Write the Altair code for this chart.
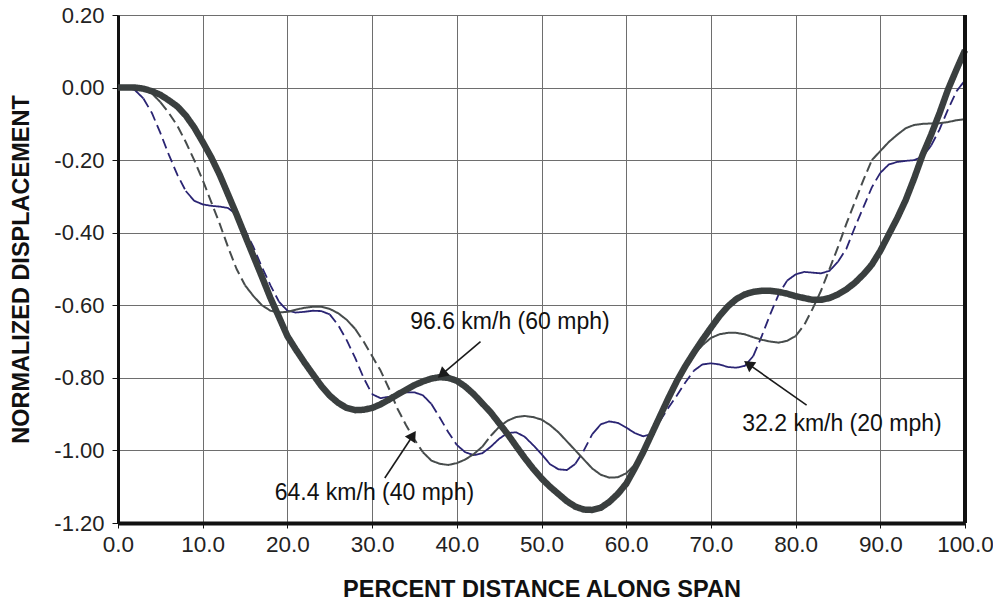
import math
import altair as alt
import pandas as pd

# Percent distance along the span, sampled every 1 %
SPAN_PCT = list(range(0, 101))

# Normalized midspan displacement for each vehicle speed
DISP_96 = [
    0.000, 0.000, 0.000, -0.003, -0.010, -0.020, -0.035, -0.052, -0.077, -0.110,
    -0.150, -0.192, -0.240, -0.295, -0.350, -0.408, -0.465, -0.522, -0.580, -0.632,
    -0.685, -0.722, -0.757, -0.790, -0.822, -0.849, -0.869, -0.883, -0.889, -0.888,
    -0.883, -0.873, -0.860, -0.846, -0.833, -0.820, -0.810, -0.802, -0.798, -0.800,
    -0.808, -0.824, -0.845, -0.870, -0.895, -0.925, -0.955, -0.988, -1.020, -1.050,
    -1.077, -1.100, -1.120, -1.140, -1.155, -1.163, -1.164, -1.158, -1.142, -1.120,
    -1.092, -1.050, -1.005, -0.955, -0.905, -0.855, -0.808, -0.767, -0.730, -0.695,
    -0.662, -0.630, -0.603, -0.583, -0.570, -0.563, -0.560, -0.560, -0.563, -0.568,
    -0.575, -0.580, -0.585, -0.585, -0.580, -0.570, -0.556, -0.538, -0.515, -0.488,
    -0.450, -0.405, -0.360, -0.310, -0.250, -0.185, -0.130, -0.070, -0.005, 0.050,
    0.103,
]
DISP_64 = [
    0.000, 0.000, 0.000, -0.005, -0.016, -0.040, -0.070, -0.105, -0.150, -0.200,
    -0.255, -0.315, -0.375, -0.440, -0.500, -0.545, -0.575, -0.600, -0.615, -0.620,
    -0.618, -0.612, -0.607, -0.604, -0.604, -0.610, -0.622, -0.640, -0.665, -0.700,
    -0.740, -0.780, -0.830, -0.885, -0.930, -0.970, -1.005, -1.028, -1.037, -1.040,
    -1.035, -1.025, -1.010, -0.990, -0.960, -0.935, -0.918, -0.908, -0.905, -0.908,
    -0.915, -0.930, -0.950, -0.975, -1.000, -1.025, -1.050, -1.067, -1.075, -1.074,
    -1.063, -1.040, -1.005, -0.958, -0.908, -0.858, -0.810, -0.770, -0.735, -0.710,
    -0.690, -0.680, -0.676, -0.676, -0.680, -0.688, -0.695, -0.700, -0.703, -0.698,
    -0.685, -0.655, -0.610, -0.560, -0.500, -0.440, -0.375, -0.315, -0.255, -0.200,
    -0.175, -0.150, -0.130, -0.112, -0.103, -0.100, -0.099, -0.098, -0.095, -0.090,
    -0.087,
]
DISP_32 = [
    0.000, 0.000, -0.007, -0.030, -0.070, -0.125, -0.185, -0.240, -0.285, -0.312,
    -0.322, -0.326, -0.328, -0.332, -0.350, -0.393, -0.440, -0.495, -0.545, -0.590,
    -0.615, -0.620, -0.618, -0.615, -0.616, -0.625, -0.655, -0.696, -0.745, -0.800,
    -0.845, -0.856, -0.852, -0.847, -0.840, -0.840, -0.848, -0.872, -0.910, -0.950,
    -0.985, -1.005, -1.013, -1.008, -0.990, -0.968, -0.952, -0.950, -0.962, -0.985,
    -1.010, -1.038, -1.052, -1.054, -1.037, -1.000, -0.955, -0.928, -0.920, -0.924,
    -0.937, -0.952, -0.961, -0.955, -0.918, -0.882, -0.848, -0.812, -0.780, -0.763,
    -0.760, -0.763, -0.770, -0.772, -0.767, -0.740, -0.685, -0.625, -0.570, -0.532,
    -0.515, -0.508, -0.510, -0.512, -0.505, -0.480, -0.444, -0.385, -0.330, -0.275,
    -0.235, -0.212, -0.205, -0.202, -0.200, -0.190, -0.160, -0.115, -0.060, -0.010,
    0.020,
]

# Callout labels: text, text anchor, arrow tail, arrow head (data units)
LABELS = ["96.6 km/h (60 mph)", "64.4 km/h (40 mph)", "32.2 km/h (20 mph)"]
LABEL_X = [34.5, 18.5, 73.7]
LABEL_Y = [-0.646, -1.117, -0.927]
TAIL_X = [42.8, 31.5, 81.3]
TAIL_Y = [-0.700, -1.076, -0.875]
HEAD_X = [38.4, 34.7, 74.6]
HEAD_Y = [-0.787, -0.963, -0.765]

W, H = 847, 508
X_DOM = [0, 100]
Y_DOM = [-1.2, 0.2]
STEEP = 0.03  # slope above which the trace is drawn dashed

NAVY = "#2a2473"
GRAY = "#474c4c"
DARK = "#3a3f3f"


def segments(name, ys, split):
    """Break a trace into runs, dashed where it is steep and solid where it is flat."""
    rows, seg, prev = [], 0, None
    for i in range(len(SPAN_PCT) - 1):
        slope = abs(ys[i + 1] - ys[i]) / (SPAN_PCT[i + 1] - SPAN_PCT[i])
        style = "dash" if (split and slope > STEEP) else "solid"
        if style != prev:
            seg += 1
            prev = style
            rows.append(dict(series=name, seg=f"{name}-{seg}", style=style,
                             x=SPAN_PCT[i], y=ys[i], o=i))
        rows.append(dict(series=name, seg=f"{name}-{seg}", style=style,
                         x=SPAN_PCT[i + 1], y=ys[i + 1], o=i + 1))
    return rows


rows = segments("32", DISP_32, True) + segments("64", DISP_64, True) + segments("96", DISP_96, False)
df = pd.DataFrame(rows)

xs = alt.Scale(domain=X_DOM, nice=False)
ys_ = alt.Scale(domain=Y_DOM, nice=False)

FONT = "Liberation Sans"

x_axis = alt.Axis(
    values=list(range(0, 101, 10)), format=".1f", title="PERCENT DISTANCE ALONG SPAN",
    grid=True, gridColor="#6e6e6e", gridWidth=1, domainColor="#111", domainWidth=4,
    tickColor="#111", tickSize=5, labelFont=FONT, labelFontSize=22.5, labelColor="#222",
    labelPadding=5, titleFont=FONT, titleFontSize=23.5, titleFontWeight="bold",
    titleColor="#111", titlePadding=22, labelFlush=False,
)
y_axis = alt.Axis(
    values=[round(-1.2 + 0.2 * k, 2) for k in range(8)],
    labelExpr="replace(format(datum.value, '.2f'), '\u2212', '-')",
    title="NORMALIZED DISPLACEMENT", grid=True, gridColor="#6e6e6e", gridWidth=1,
    domainColor="#111", domainWidth=3, tickColor="#111", tickSize=6,
    labelFont=FONT, labelFontSize=22, labelColor="#222", labelPadding=8,
    titleFont=FONT, titleFontSize=23.5, titleFontWeight="bold", titleColor="#111",
    titlePadding=20,
)

base = alt.Chart(df)


def trace(name, color, width):
    return base.transform_filter(alt.datum.series == name).mark_line(
        color=color, strokeWidth=width, strokeCap="butt", strokeJoin="round"
    ).encode(
        x=alt.X("x:Q", scale=xs, axis=x_axis),
        y=alt.Y("y:Q", scale=ys_, axis=y_axis),
        detail="seg:N",
        order="o:Q",
        strokeDash=alt.StrokeDash(
            "style:N",
            scale=alt.Scale(domain=["solid", "dash"], range=[[1, 0], [10, 5]]),
            legend=None,
        ),
    )


# right-hand frame edge
frame = alt.Chart(pd.DataFrame({"x": [X_DOM[1]], "y": [Y_DOM[0]], "y2": [Y_DOM[1]]})).mark_rule(
    color="#111", strokeWidth=4
).encode(x=alt.X("x:Q", scale=xs), y=alt.Y("y:Q", scale=ys_), y2="y2:Q")

# callouts
px_per_x = W / (X_DOM[1] - X_DOM[0])
px_per_y = H / (Y_DOM[1] - Y_DOM[0])
angles = []
for tx, ty, hx, hy in zip(TAIL_X, TAIL_Y, HEAD_X, HEAD_Y):
    dx = (hx - tx) * px_per_x
    dy = -(hy - ty) * px_per_y
    angles.append(math.degrees(math.atan2(dx, -dy)) % 360)

ann = pd.DataFrame(dict(label=LABELS, lx=LABEL_X, ly=LABEL_Y, tx=TAIL_X, ty=TAIL_Y,
                        hx=HEAD_X, hy=HEAD_Y, ang=angles))
ann_base = alt.Chart(ann)
shafts = ann_base.mark_rule(color="#1a1a1a", strokeWidth=1.6).encode(
    x=alt.X("tx:Q", scale=xs), y=alt.Y("ty:Q", scale=ys_), x2="hx:Q", y2="hy:Q"
)
heads = ann_base.mark_point(shape="triangle", filled=True, color="#1a1a1a", size=150, opacity=1).encode(
    x=alt.X("hx:Q", scale=xs), y=alt.Y("hy:Q", scale=ys_), angle=alt.Angle("ang:Q", scale=None)
)
texts = ann_base.mark_text(align="left", baseline="middle", font=FONT, fontSize=23, color="#111").encode(
    x=alt.X("lx:Q", scale=xs), y=alt.Y("ly:Q", scale=ys_), text="label:N"
)

chart = alt.layer(
    trace("32", NAVY, 1.8),
    trace("64", GRAY, 2.0),
    trace("96", DARK, 6.5),
    frame, shafts, heads, texts,
).properties(
    width=W, height=H,
    padding={"left": 118, "top": 15, "right": 28, "bottom": 84},
    autosize=alt.AutoSizeParams(type="none"),
    background="white",
).configure_view(stroke=None)

chart.save("out.html", embed_options={"renderer": "svg", "actions": False})
